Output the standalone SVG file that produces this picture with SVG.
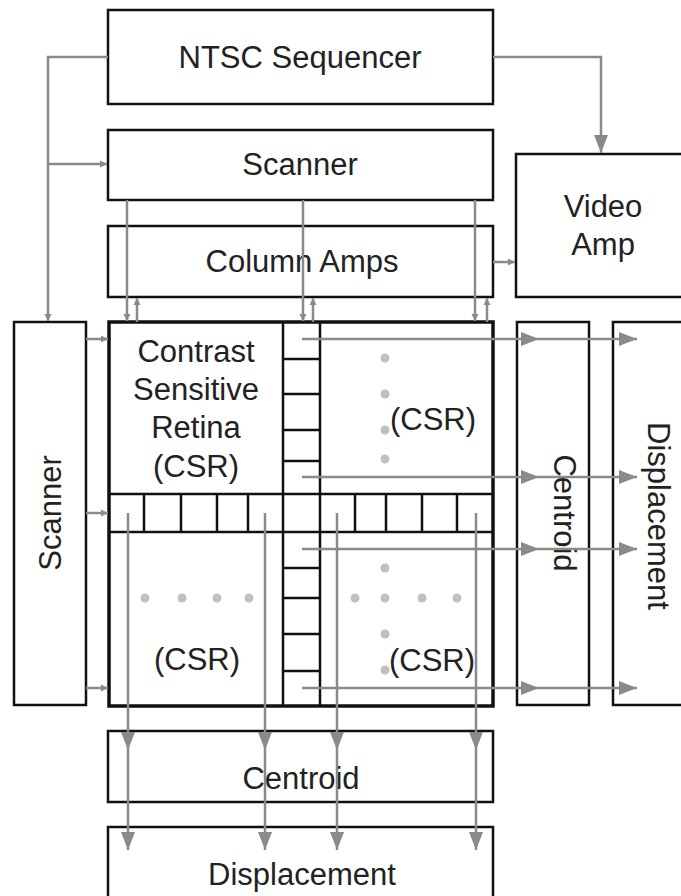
<svg xmlns="http://www.w3.org/2000/svg" width="681" height="896" viewBox="0 0 681 896">
<style>
.box{fill:#fff;stroke:#111;stroke-width:2.5}
.t{font-family:"Liberation Sans",Arial,sans-serif;font-size:31px;fill:#222;text-anchor:middle}
.g{stroke:#111;stroke-width:2.5;fill:none}
.c{stroke:#8a8a8a;stroke-width:2.5;fill:none}
.dot{fill:#c0c0c0}
</style>
<defs>
<marker id="big" markerUnits="userSpaceOnUse" markerWidth="20" markerHeight="14" refX="18" refY="7" orient="auto">
<path d="M0,0 L18,7 L0,14 Z" fill="#8a8a8a"/>
</marker>
<marker id="small" markerUnits="userSpaceOnUse" markerWidth="8" markerHeight="8" refX="7" refY="4" orient="auto">
<path d="M0,0.5 L7,4 L0,7.5 Z" fill="#8a8a8a"/>
</marker>
</defs>
<rect width="681" height="896" fill="#fff"/>

<g id="ntsc-sequencer">
<rect class="box" x="108" y="10" width="385" height="94"/>
<text class="t" x="300" y="68">NTSC Sequencer</text>
</g>
<g id="scanner-top">
<rect class="box" x="108" y="130" width="385" height="70"/>
<text class="t" x="300" y="175">Scanner</text>
</g>
<g id="column-amps">
<rect class="box" x="108" y="226" width="385" height="71"/>
<text class="t" x="302" y="272">Column Amps</text>
</g>
<g id="video-amp">
<rect class="box" x="516" y="154" width="180" height="143"/>
<text class="t" x="603" y="217">Video</text>
<text class="t" x="603" y="255">Amp</text>
</g>
<g id="scanner-left">
<rect class="box" x="14" y="322" width="72" height="383"/>
<text class="t" transform="translate(50,513) rotate(-90)" y="11">Scanner</text>
</g>
<g id="centroid-right">
<rect class="box" x="517" y="322" width="72" height="383"/>
<text class="t" transform="translate(565,513) rotate(90)" y="11">Centroid</text>
</g>
<g id="displacement-right">
<rect class="box" x="613" y="322" width="90" height="383"/>
<text class="t" transform="translate(659,516) rotate(90)" y="11">Displacement</text>
</g>
<g id="centroid-bottom">
<rect class="box" x="108" y="731" width="385" height="71"/>
<text class="t" x="301" y="789">Centroid</text>
</g>
<g id="displacement-bottom">
<rect class="box" x="108" y="827" width="385" height="90"/>
<text class="t" x="302" y="885">Displacement</text>
</g>

<g id="csr-array">
<rect x="109" y="322" width="384" height="384" fill="#fff" stroke="#111" stroke-width="3.5"/>
<path class="g" d="M283,322 V706 M320,322 V706 M109,494 H493 M109,532 H493"/>
<path class="g" d="M283,359 H320 M283,394 H320 M283,430 H320 M283,461 H320 M283,568 H320 M283,598 H320 M283,634 H320 M283,671 H320"/>
<path class="g" d="M144,494 V532 M181,494 V532 M217,494 V532 M248,494 V532 M355,494 V532 M386,494 V532 M422,494 V532 M457,494 V532"/>
<g class="dot">
<circle cx="385" cy="358" r="4.5"/><circle cx="385" cy="394" r="4.5"/><circle cx="385" cy="430" r="4.5"/><circle cx="385" cy="459" r="4.5"/>
<circle cx="145" cy="598" r="4.5"/><circle cx="182" cy="598" r="4.5"/><circle cx="217" cy="598" r="4.5"/><circle cx="249" cy="598" r="4.5"/>
<circle cx="355" cy="598" r="4.5"/><circle cx="385" cy="598" r="4.5"/><circle cx="422" cy="598" r="4.5"/><circle cx="457" cy="598" r="4.5"/>
<circle cx="385" cy="568" r="4.5"/><circle cx="385" cy="634" r="4.5"/><circle cx="385" cy="670" r="4.5"/>
</g>
<text class="t" x="196" y="362">Contrast</text>
<text class="t" x="196" y="400">Sensitive</text>
<text class="t" x="196" y="438">Retina</text>
<text class="t" x="196" y="477">(CSR)</text>
<text class="t" x="433" y="430">(CSR)</text>
<text class="t" x="197" y="670">(CSR)</text>
<text class="t" x="432" y="671">(CSR)</text>
</g>

<g id="connectors">
<path class="c" d="M108,57 H48 V321" marker-end="url(#small)"/>
<path class="c" d="M48,164 H107" marker-end="url(#small)"/>
<path class="c" d="M493,57 H601 V153" marker-end="url(#big)"/>
<path class="c" d="M493,262 H515" marker-end="url(#small)"/>
<path class="c" d="M127,200 V321" marker-end="url(#small)"/>
<path class="c" d="M303,200 V321" marker-end="url(#small)"/>
<path class="c" d="M475,200 V321" marker-end="url(#small)"/>
<path class="c" d="M137,322 V298" marker-end="url(#small)"/>
<path class="c" d="M313,322 V298" marker-end="url(#small)"/>
<path class="c" d="M487,322 V298" marker-end="url(#small)"/>
<path class="c" d="M86,339 H108" marker-end="url(#small)"/>
<path class="c" d="M86,513 H108" marker-end="url(#small)"/>
<path class="c" d="M86,688 H108" marker-end="url(#small)"/>
<path class="c" d="M302,339 H539" marker-end="url(#big)"/>
<path class="c" d="M539,339 H637" marker-end="url(#big)"/>
<path class="c" d="M302,477 H539" marker-end="url(#big)"/>
<path class="c" d="M539,477 H637" marker-end="url(#big)"/>
<path class="c" d="M302,549 H539" marker-end="url(#big)"/>
<path class="c" d="M539,549 H637" marker-end="url(#big)"/>
<path class="c" d="M302,688 H539" marker-end="url(#big)"/>
<path class="c" d="M539,688 H637" marker-end="url(#big)"/>
<path class="c" d="M128,513 V750" marker-end="url(#big)"/>
<path class="c" d="M128,750 V850" marker-end="url(#big)"/>
<path class="c" d="M265,513 V750" marker-end="url(#big)"/>
<path class="c" d="M265,750 V850" marker-end="url(#big)"/>
<path class="c" d="M337,513 V750" marker-end="url(#big)"/>
<path class="c" d="M337,750 V850" marker-end="url(#big)"/>
<path class="c" d="M476,513 V750" marker-end="url(#big)"/>
<path class="c" d="M476,750 V850" marker-end="url(#big)"/>
</g>
</svg>
